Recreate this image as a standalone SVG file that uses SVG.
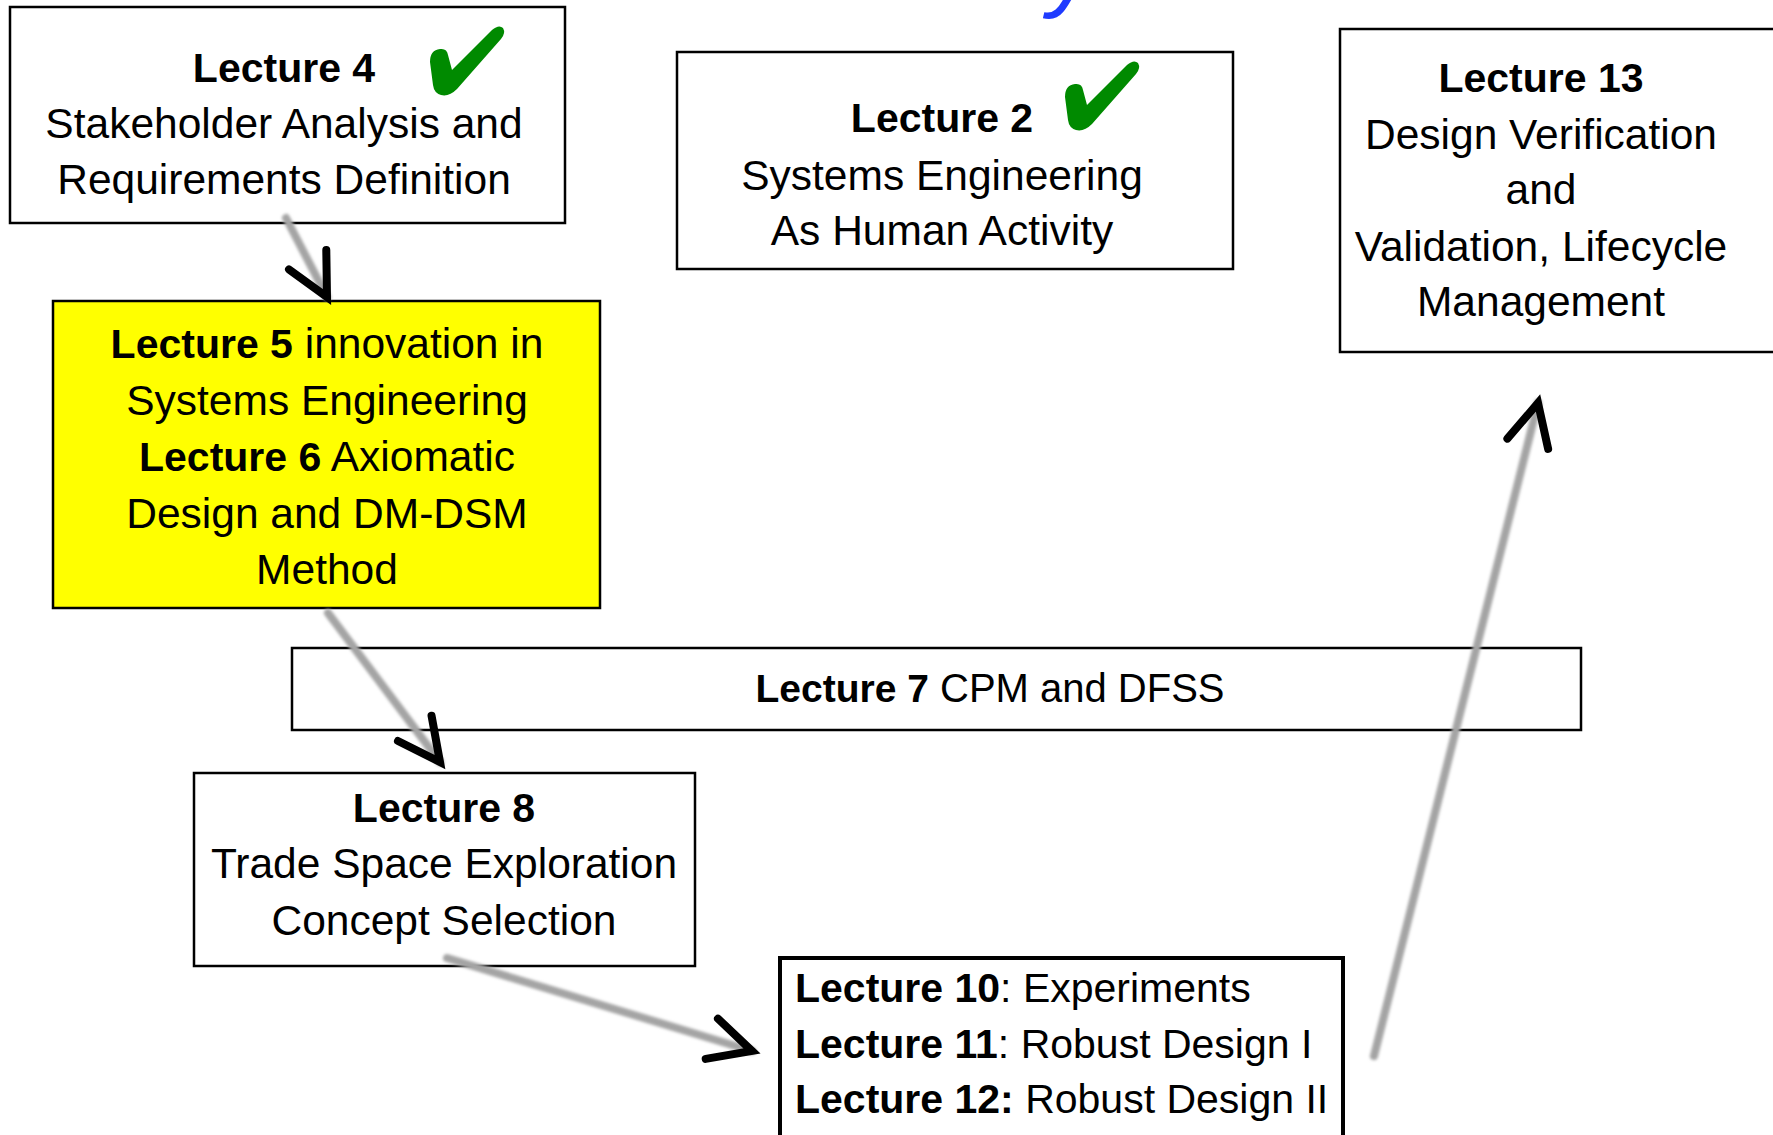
<svg xmlns="http://www.w3.org/2000/svg" width="1773" height="1135" viewBox="0 0 1773 1135">
<style>
  .box { fill: #ffffff; stroke: #000000; stroke-width: 2.5; }
  .yellow { fill: #ffff00; }
  .t { font-family: "Liberation Sans", Arial, sans-serif; font-size: 42.5px; fill: #000000; }
  .s { font-size: 41px; }
  .c { text-anchor: middle; }
  .b { font-weight: bold; font-size: 41px; }
  .edge { fill: none; stroke: #a4a4a4; stroke-width: 8; stroke-linecap: round; filter: url(#soft); }
  .head { fill: none; stroke: none; }
  .title { font-family: "Liberation Sans", Arial, sans-serif; font-size: 95px; font-style: italic; fill: #1f3bff; }
</style>
<defs>
  <filter id="soft" x="-20%" y="-20%" width="140%" height="140%">
    <feGaussianBlur stdDeviation="1.4"/>
  </filter>
  <marker id="chev" markerUnits="userSpaceOnUse" orient="auto" refX="0" refY="0" markerWidth="120" markerHeight="120" viewBox="-60 -60 120 120" overflow="visible">
    <path d="M -42 -21 L 0 0 L -42 21" fill="none" stroke="#000000" stroke-width="8" stroke-linecap="round" stroke-linejoin="miter"/>
  </marker>
  <path id="check" d="M 430 62 Q 430 50 440 49 Q 447 48 448 55 L 452 70 L 492 30 Q 499 24 503 28 Q 506 33 501 39 L 457 89 Q 449 97 441 95 Q 434 93 433 85 Z" fill="#008a00"/>
</defs>
<rect width="1773" height="1135" fill="#ffffff"/>

<text class="title" x="610" y="-1">Course Layout</text>

<g id="lecture4">
  <rect class="box" x="10" y="7" width="555" height="216"/>
  <text class="t c b" x="284" y="82">Lecture 4</text>
  <text class="t c" x="284" y="138">Stakeholder Analysis and</text>
  <text class="t c" x="284" y="194">Requirements Definition</text>
  <use href="#check"/>
</g>

<g id="lecture2">
  <rect class="box" x="677" y="52" width="556" height="217"/>
  <text class="t c b" x="942" y="132">Lecture 2</text>
  <text class="t c" x="942" y="190">Systems Engineering</text>
  <text class="t c" x="942" y="245">As Human Activity</text>
  <use href="#check" transform="translate(635,35)"/>
</g>

<g id="lecture13">
  <rect class="box" x="1340" y="29" width="460" height="323"/>
  <text class="t c b" x="1541" y="92">Lecture 13</text>
  <text class="t c" x="1541" y="149">Design Verification</text>
  <text class="t c" x="1541" y="204">and</text>
  <text class="t c" x="1541" y="261">Validation, Lifecycle</text>
  <text class="t c" x="1541" y="316">Management</text>
</g>

<g id="lecture5-6">
  <rect class="box yellow" x="53" y="301" width="547" height="307"/>
  <text class="t c" x="327" y="358"><tspan class="b">Lecture 5</tspan> innovation in</text>
  <text class="t c" x="327" y="415">Systems Engineering</text>
  <text class="t c" x="327" y="471"><tspan class="b">Lecture 6</tspan> Axiomatic</text>
  <text class="t c" x="327" y="528">Design and DM-DSM</text>
  <text class="t c" x="327" y="584">Method</text>
</g>

<g id="lecture7">
  <rect class="box" x="292" y="648" width="1289" height="82"/>
  <text class="t c" x="990" y="702" style="font-size:40px"><tspan class="b" style="font-size:39px">Lecture 7</tspan> CPM and DFSS</text>
</g>

<g id="lecture8">
  <rect class="box" x="194" y="773" width="501" height="193"/>
  <text class="t c b" x="444" y="822">Lecture 8</text>
  <text class="t c" x="444" y="878">Trade Space Exploration</text>
  <text class="t c" x="444" y="935">Concept Selection</text>
</g>

<g id="lecture10-12">
  <rect class="box" x="780" y="958" width="563" height="200" style="stroke-width:4"/>
  <text class="t s" x="795" y="1002"><tspan class="b">Lecture 10</tspan>: Experiments</text>
  <text class="t s" x="795" y="1058"><tspan class="b">Lecture 11</tspan>: Robust Design I</text>
  <text class="t s" x="795" y="1113"><tspan class="b">Lecture 12:</tspan> Robust Design II</text>
</g>

<g id="connectors">
  <path class="edge" d="M 286 218 L 327 297"/>
  <path class="head" d="M 286 218 L 327 297" marker-end="url(#chev)"/>
  <path class="edge" d="M 328 613 L 440 762"/>
  <path class="head" d="M 328 613 L 440 762" marker-end="url(#chev)"/>
  <path class="edge" d="M 447 958 L 752 1051"/>
  <path class="head" d="M 447 958 L 752 1051" marker-end="url(#chev)"/>
  <path class="edge" d="M 1374 1056 L 1538 403"/>
  <path class="head" d="M 1374 1056 L 1538 403" marker-end="url(#chev)"/>
</g>
</svg>
